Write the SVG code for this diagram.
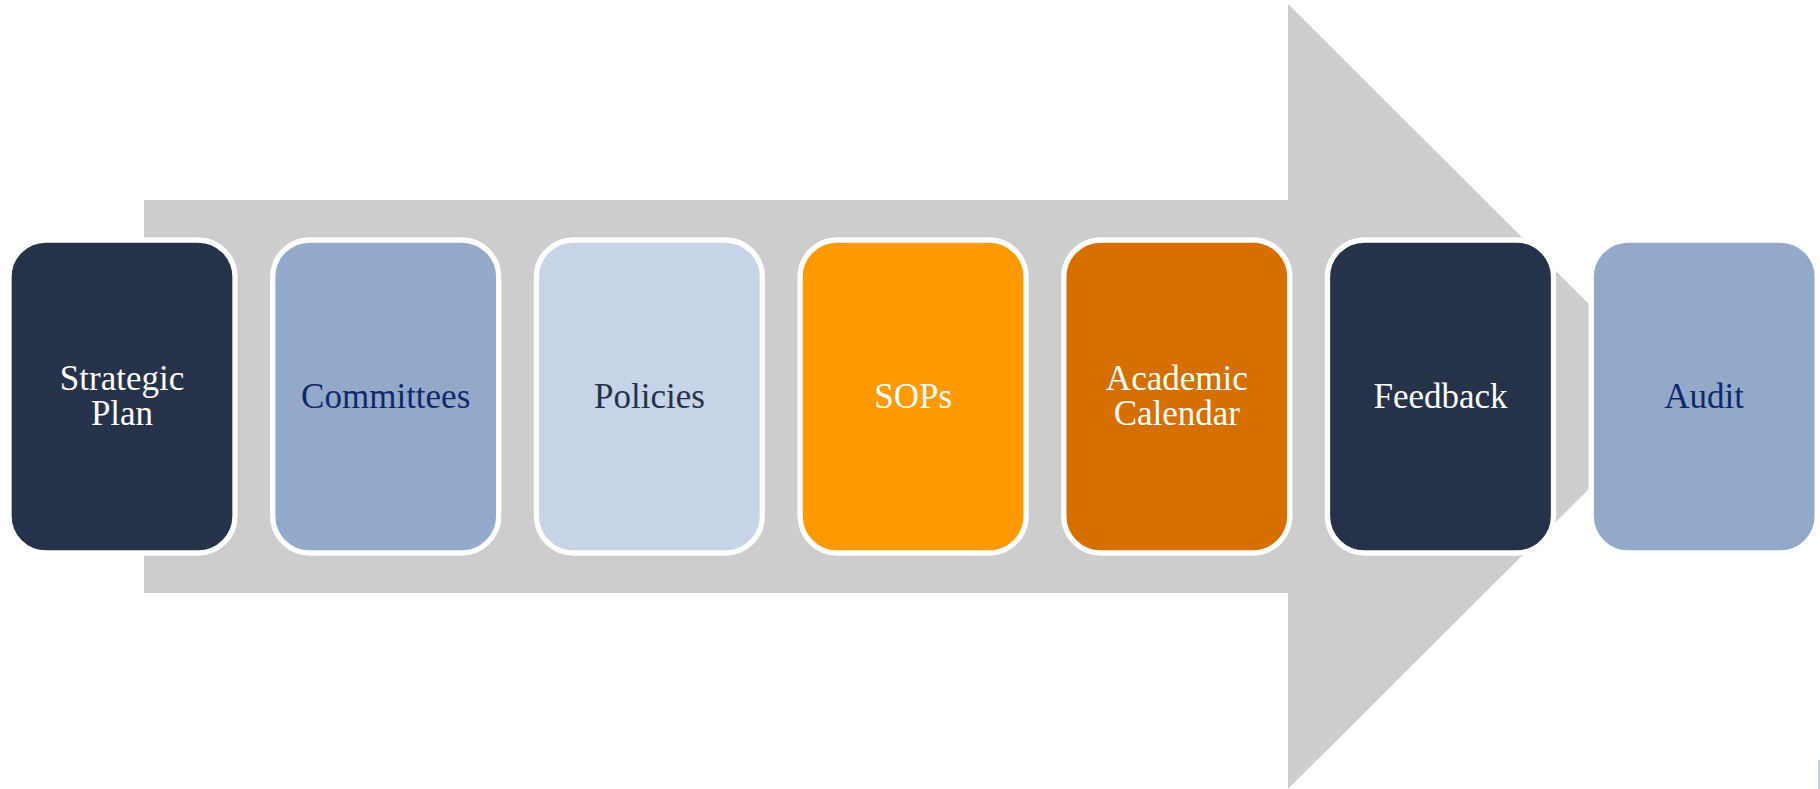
<svg xmlns="http://www.w3.org/2000/svg" width="1820" height="789" viewBox="0 0 1820 789">
<style>
.box{stroke:#FFFFFF;stroke-width:5.3}
.lbl{font-family:"Liberation Serif","Times New Roman",serif;font-size:35px;text-anchor:middle}
.w{fill:#FFFFFF}
.navy{fill:#0F2A6B}
.dark{fill:#263249}
</style>
<rect x="0" y="0" width="1820" height="789" fill="#FFFFFF"/>
<g id="connectors">
<polygon id="arrow" points="144,200 1288,200 1288,4 1589,304 1589,489 1288,789 1288,593 144,593" fill="#CDCDCF"/>
</g>
<g id="node-strategic-plan">
<rect class="box" x="9" y="240" width="226" height="313" rx="37" fill="#263249"/>
<text class="lbl w" x="122" y="390">Strategic</text>
<text class="lbl w" x="122" y="425">Plan</text>
</g>
<g id="node-committees">
<rect class="box" x="272.7" y="240" width="226" height="313" rx="37" fill="#93A9C9"/>
<text class="lbl navy" x="385.7" y="408">Committees</text>
</g>
<g id="node-policies">
<rect class="box" x="536.4" y="240" width="226" height="313" rx="37" fill="#C7D4E7"/>
<text class="lbl dark" x="649.4" y="408">Policies</text>
</g>
<g id="node-sops">
<rect class="box" x="800.1" y="240" width="226" height="313" rx="37" fill="#FF9900"/>
<text class="lbl w" x="913.1" y="408">SOPs</text>
</g>
<g id="node-academic-calendar">
<rect class="box" x="1063.8" y="240" width="226" height="313" rx="37" fill="#D46F00"/>
<text class="lbl w" x="1176.8" y="390">Academic</text>
<text class="lbl w" x="1176.8" y="425">Calendar</text>
</g>
<g id="node-feedback">
<rect class="box" x="1327.5" y="240" width="226" height="313" rx="37" fill="#263249"/>
<text class="lbl w" x="1440.5" y="408">Feedback</text>
</g>
<g id="node-audit">
<rect class="box" x="1591.2" y="240" width="226" height="313" rx="37" fill="#93A9C9"/>
<text class="lbl navy" x="1704.2" y="408">Audit</text>
</g>
<rect x="1818" y="760" width="2" height="29" fill="#C7D4E7"/>
</svg>
